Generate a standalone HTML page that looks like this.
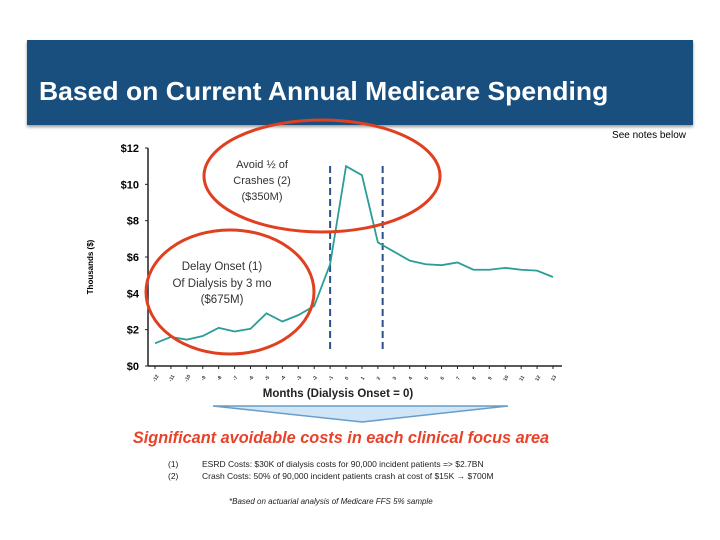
<!DOCTYPE html>
<html><head><meta charset="utf-8"><style>
body{margin:0;width:720px;height:540px;background:#fff;overflow:hidden;font-family:"Liberation Sans",sans-serif;position:relative}
#hdr{position:absolute;left:27px;top:40px;width:666px;height:85px;background:#194f7f;box-shadow:0 2px 3px #999}
#hdr h1{position:absolute;left:12px;top:36px;margin:0;color:#fff;font-size:26px;font-weight:bold;transform:scaleX(1.02);transform-origin:left}
</style></head><body>
<div id="hdr"><h1>Based on Current Annual Medicare Spending</h1></div>
<svg width="720" height="540" style="position:absolute;left:0;top:0" id="chart">
<text x="686" y="138" font-size="10" text-anchor="end">See notes below</text>
<text transform="translate(93,267) rotate(-90)" font-size="8" font-weight="bold" text-anchor="middle">Thousands ($)</text>
<text x="338" y="397" font-size="11.5" font-weight="bold" text-anchor="middle" fill="#222">Months (Dialysis Onset = 0)</text>
<g id="axes"></g><g id="marks"></g>
<ellipse cx="322" cy="176" rx="118" ry="56" fill="none" stroke="#e0401f" stroke-width="3"/>
<ellipse cx="230" cy="292" rx="84" ry="62" fill="none" stroke="#e0401f" stroke-width="3"/>
<g font-size="11" fill="#333" text-anchor="middle">
<text x="262" y="168">Avoid  ½ of</text><text x="262" y="184">Crashes (2)</text><text x="262" y="200">($350M)</text></g>
<g font-size="11.5" fill="#333" text-anchor="middle">
<text x="222" y="270">Delay Onset (1)</text><text x="222" y="287">Of Dialysis by 3 mo</text><text x="222" y="303">($675M)</text></g>
<polygon points="213,406 508,406 362,422" fill="#cfe6f8" stroke="#6a9cc8" stroke-width="1.5"/>
<text x="341" y="443" font-size="16.3" font-weight="bold" font-style="italic" fill="#e8432a" text-anchor="middle">Significant avoidable costs in each clinical focus area</text>
<g font-size="8.5" fill="#222">
<text x="168" y="467">(1)</text><text x="202" y="467">ESRD Costs:  $30K of dialysis costs for 90,000 incident patients =&gt; $2.7BN</text>
<text x="168" y="479">(2)</text><text x="202" y="479">Crash Costs: 50% of 90,000 incident patients crash at cost of $15K  → $700M</text>
<text x="229" y="504" font-style="italic" font-size="8">*Based on actuarial analysis of Medicare FFS 5% sample</text></g>
</svg>
<script>
const months=[-12,-11,-10,-9,-8,-7,-6,-5,-4,-3,-2,-1,0,1,2,3,4,5,6,7,8,9,10,11,12,13];
const costs=[1.25,1.6,1.45,1.65,2.1,1.9,2.05,2.9,2.45,2.8,3.3,5.6,11.0,10.5,6.8,6.3,5.8,5.6,5.55,5.7,5.3,5.3,5.4,5.3,5.25,4.9];
const yTicks=[0,2,4,6,8,10,12];
const yTickLabels=["$0","$2","$4","$6","$8","$10","$12"];
const dashMonths=[-1,2.3];
const NS="http://www.w3.org/2000/svg";
const x0=148,x1=562,yb=366,yt=148;
const xs=i=>155+(553-155)*(i-months[0])/(months[months.length-1]-months[0]);
const ys=v=>yb-(yb-yt)*v/12;
const ax=document.getElementById('axes'),mk=document.getElementById('marks');
function el(t,a,p){const e=document.createElementNS(NS,t);for(const k in a)e.setAttribute(k,a[k]);p.appendChild(e);return e;}
let a=el('line',{x1:x0,y1:yt,x2:x0,y2:yb,stroke:'#222','stroke-width':1.5},ax);


a=el('line',{x1:x0,y1:yb,x2:x1,y2:yb,stroke:'#222','stroke-width':1.5},ax);


yTicks.forEach((v,i)=>{
  el('line',{x1:x0-3,y1:ys(v),x2:x0,y2:ys(v),stroke:'#222'},ax);
  const t=el('text',{x:x0-9,y:ys(v)+4,'font-size':11,'font-weight':'bold','text-anchor':'end'},ax);
  t.textContent=yTickLabels[i];
  
  
});
months.forEach(m=>{
  el('line',{x1:xs(m),y1:yb,x2:xs(m),y2:yb+3,stroke:'#222'},ax);
  const t=el('text',{transform:`translate(${xs(m)+2},${yb+13}) rotate(-60)`,'font-size':5,'font-weight':'bold','text-anchor':'middle',fill:'#333'},ax);
  t.textContent=m;
  
  
});
dashMonths.forEach(m=>{
  const d=el('line',{x1:xs(m),y1:166,x2:xs(m),y2:353,stroke:'#2a4f8c','stroke-width':2,'stroke-dasharray':'7,4'},mk);
  
  
});
const p=el('polyline',{points:costs.map((v,i)=>xs(months[i])+','+ys(v)).join(' '),fill:'none',stroke:'#2a9d96','stroke-width':1.8},mk);


</script>
</body></html>
